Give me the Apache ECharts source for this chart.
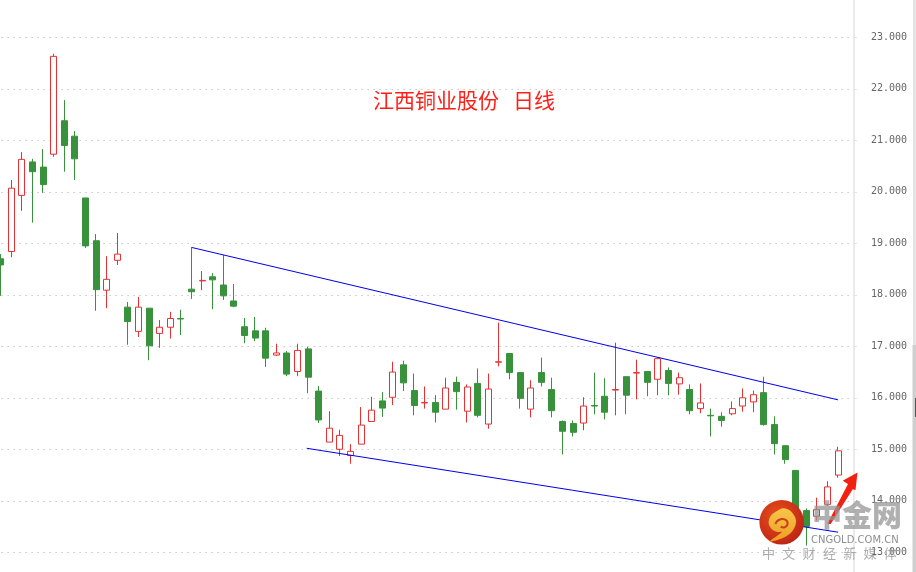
<!DOCTYPE html>
<html><head><meta charset="utf-8">
<style>html,body{margin:0;padding:0;background:#fff}#c{width:916px;height:572px}</style>
<script src="https://cdn.jsdelivr.net/npm/echarts@6/dist/echarts.min.js"></script>
</head><body><div id="c"></div>
<script>
const titleText = '江西铜业股份   日线';
const opens  = [18.70,18.84,19.93,20.58,20.48,20.73,21.38,21.08,19.88,19.05,18.09,18.67,17.76,17.29,17.74,17.25,17.37,17.54,18.11,18.27,18.35,18.19,17.88,17.38,17.30,17.30,16.83,16.87,16.51,16.95,16.13,15.14,15.00,14.88,15.10,15.54,15.94,16.01,16.64,16.14,15.90,15.91,15.78,16.30,15.74,16.28,15.49,16.69,16.86,16.49,15.78,16.49,16.16,15.54,15.50,15.51,15.85,16.03,16.15,16.41,16.48,16.51,16.36,16.53,16.27,16.16,15.79,15.66,15.64,15.69,15.84,15.92,16.10,15.48,15.07,14.59,13.81,13.70,13.93,14.50];
const closes = [18.58,20.07,20.63,20.39,20.14,22.63,20.90,20.64,18.95,18.10,18.30,18.79,17.48,17.76,17.01,17.37,17.54,17.53,18.06,18.28,18.29,17.98,17.78,17.21,17.16,16.77,16.87,16.46,16.92,16.40,15.57,15.41,15.27,14.96,15.47,15.76,15.80,16.50,16.29,15.85,15.91,15.72,16.19,16.12,16.21,15.66,16.17,16.70,16.49,15.99,16.19,16.30,15.75,15.35,15.33,15.84,15.84,15.72,16.16,16.05,16.49,16.30,16.76,16.28,16.39,15.75,15.90,15.65,15.56,15.79,16.00,16.06,15.48,15.11,14.80,13.75,13.50,13.83,14.27,14.97];
const lows   = [17.98,18.73,19.63,19.40,19.98,20.68,20.39,20.23,18.91,17.69,17.74,18.58,17.03,17.18,16.73,16.97,17.15,17.22,17.92,18.09,17.72,17.90,17.76,17.06,17.10,16.60,16.81,16.42,16.42,16.09,15.51,15.14,14.87,14.72,15.10,15.54,15.63,15.86,16.13,15.66,15.79,15.52,15.78,15.77,15.52,15.62,15.40,16.61,16.36,15.79,15.62,16.22,15.62,14.90,15.25,15.37,15.68,15.58,15.66,15.68,15.97,16.03,16.05,16.05,16.06,15.68,15.70,15.25,15.44,15.66,15.73,15.72,15.46,14.90,14.72,13.70,13.13,13.62,13.90,14.45];
const highs  = [18.79,20.23,20.77,20.64,20.83,22.68,21.78,21.18,19.88,19.18,18.75,19.20,17.86,17.96,17.74,17.51,17.67,17.71,18.92,18.46,18.42,18.77,18.21,17.55,17.57,17.36,17.05,16.91,17.05,16.99,16.23,15.74,15.38,15.10,15.82,16.02,16.11,16.70,16.72,16.47,16.22,16.05,16.39,16.41,16.26,16.57,16.47,17.46,16.86,16.49,16.34,16.78,16.39,15.56,15.56,16.01,16.49,16.38,17.07,16.41,16.74,16.51,16.79,16.59,16.49,16.26,16.28,15.79,15.72,15.93,16.18,16.14,16.41,15.64,15.07,14.59,13.85,14.06,14.38,15.05];
const categories = opens.map((_, i) => String(i)).concat(['']);
const upperTrend = [[18, 18.92], [79, 15.96]];
const lowerTrend = [[28.87, 15.02], [79, 13.39]];
const watermarkCn = '中金网';
const watermarkEn = 'CNGOLD.COM.CN';
const watermarkSub = ['中','文','财','经','新','媒','体'];

const z = (x, y) => [750 + x / 3, 470 + y / 3];
const pts = a => a.map(p => z(p[0], p[1]));
const chart = echarts.init(document.getElementById('c'));
const graphics = [
  { type:'rect', z:50, shape:{x:913,y:0,width:3,height:345}, style:{fill:'#e4e4e4'} },
  { type:'rect', z:50, shape:{x:912.5,y:345,width:3.5,height:227}, style:{fill:'#cfcfcf'} },
  { type:'rect', z:51, shape:{x:915,y:398,width:1,height:19}, style:{fill:'#555'} },
  { type:'polygon', z:60, shape:{points:[[857.5,472.5],[842.7,480.7],[848,484],[827.3,524],[830.7,524],[852.7,489.3],[855.5,490]]},
    style:{fill:'#f32012'} },
  { type:'circle', z:70, shape:{cx:781.7,cy:522.3,r:22.3},
    style:{fill:new echarts.graphic.RadialGradient(0.4,0.35,0.75,[{offset:0,color:'#e8501c'},{offset:1,color:'#b91f14'}])} },
  { type:'polygon', z:71, shape:{smooth:0.35, points:pts([[60,214],[100,203],[128,182],[138,152],[124,125],[100,115],[80,124],[62,138],[56,160],[66,178],[82,186],[96,186]])},
    style:{fill:new echarts.graphic.LinearGradient(0,0,0,1,[{offset:0,color:'#f7c64a'},{offset:1,color:'#ef9d22'}])} },
  { type:'polyline', z:72, shape:{smooth:0.5, points:pts([[76,162],[86,150],[104,148],[113,160],[104,172],[92,170]])},
    style:{stroke:'#c9401c',lineWidth:2,fill:'none'} },
  { type:'text', z:80, x:812, y:500, style:{text:watermarkCn, font:'900 30px "Noto Sans CJK SC"', fill:'rgba(150,150,150,0.75)'} },
  { type:'text', z:80, x:811, y:535, style:{text:watermarkEn, font:'10px "DejaVu Sans"', fill:'rgba(130,130,130,0.9)'} },
].concat(watermarkSub.map((ch, i) => (
  { type:'text', z:80, x:762 + i * 20.3, y:547, style:{text:ch, font:'13px "Noto Sans CJK SC"', fill:'rgba(150,150,150,0.8)'} }
)));

chart.setOption({
  animation:false,
  backgroundColor:'#fff',
  title:{ text:titleText, left:368, top:85, itemGap:0,
    textStyle:{ color:'#ff2018', fontSize:21, fontWeight:'normal', fontFamily:'"Noto Sans CJK SC"' } },
  grid:{ left:-4.6, top:-14.2, width:858.6, height:618, containLabel:false, outerBoundsMode:'none' },
  xAxis:[
    { type:'category', data:categories, show:false, boundaryGap:true },
    { type:'value', min:-0.5, max:80.5, show:false }
  ],
  yAxis:{ type:'value', position:'right', min:12, max:24, interval:1, scale:true,
    axisLine:{ show:true, onZero:false, lineStyle:{ color:'#e4e4e4', width:1.5 } },
    axisTick:{ show:true, length:3, lineStyle:{ color:'#e4e4e4' } },
    axisLabel:{ margin:17, color:'#666', fontSize:10, fontFamily:'"DejaVu Sans Mono"', formatter:v => v.toFixed(3) },
    splitLine:{ show:true, lineStyle:{ color:'#c8c8c8', type:[1.5,4.5], width:1 } }
  },
  series:[
    { type:'candlestick', name:'日线', barWidth:6.4,
      data: opens.map((o, i) => [o, closes[i], lows[i], highs[i]]),
      itemStyle:{ color:'#fff', color0:'#38923c', borderColor:'#e83232', borderColor0:'#38923c', borderWidth:1 } },
    { type:'line', name:'upper', xAxisIndex:1, data:upperTrend, symbol:'none', silent:true, z:5,
      lineStyle:{ color:'#0000f0', width:1 } },
    { type:'line', name:'lower', xAxisIndex:1, data:lowerTrend, symbol:'none', silent:true, z:5,
      lineStyle:{ color:'#0000f0', width:1 } }
  ],
  graphic: graphics
});
</script></body></html>
